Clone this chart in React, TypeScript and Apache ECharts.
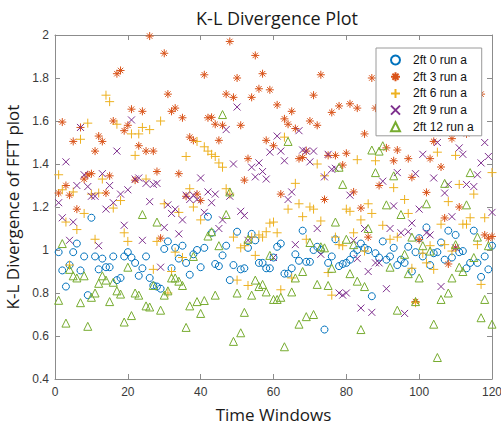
import React, { useEffect, useRef } from "react";
import * as echarts from "echarts";

const xTicks = { min: 0, max: 120, interval: 20 };
const yTicks = { min: 0.4, max: 2, interval: 0.2 };

const seriesNames = ["2ft 0 run a", "2ft 3 run a", "2ft 6 run a", "2ft 9 run a", "2ft 12 run a"];

const run0 = [
  0.99, 0.905, 0.83, 0.93, 0.99, 1.03, 0.905, 0.97, 0.79, 1.15,
  0.97, 0.91, 0.96, 0.92, 0.92, 0.97, 0.86, 0.87, 0.97, 0.99,
  0.965, 0.94, 0.88, 0.915, 0.97, 0.87, 0.835, 0.83, 0.82, 1.005,
  1.04, 0.915, 1.01, 0.96, 1.02, 0.94, 0.885, 0.98, 1.0, 0.92,
  1.01, 1.155, 1.08, 0.935, 0.925, 0.975, 1.02, 0.86, 0.93, 1.085,
  0.91, 0.915, 1.01, 1.075, 1.045, 0.94, 0.94, 0.915, 0.915, 0.965,
  1.015, 1.03, 0.89, 0.89, 0.915, 0.98, 0.95, 1.09, 0.945, 0.945,
  1.0, 1.015, 1.0, 0.63, 0.94, 0.97, 1.05, 0.925, 0.935, 0.94,
  0.955, 0.98, 1.0, 1.03, 1.01, 1.0, 0.785, 0.985, 0.965, 1.04,
  0.955, 0.97, 1.01, 0.93, 0.955, 0.94, 1.015, 0.9, 0.99, 1.055,
  0.97, 1.105, 0.93, 0.985, 0.99, 1.035, 0.955, 1.09, 0.965, 1.07,
  0.99, 0.995, 0.915, 0.94, 1.09, 0.94, 0.875, 0.97, 0.91, 1.02,
];

const run3 = [
  1.265, 1.595, 1.3, 1.255, 1.505, 1.19, 1.57, 1.33, 1.35, 1.355,
  1.46, 1.53, 1.505, 1.265, 1.345, 1.6, 1.82, 1.835, 1.555, 1.58,
  1.655, 1.325, 1.485, 1.645, 1.46, 1.995, 1.46, 1.365, 1.055, 1.915,
  1.725, 1.645, 1.66, 1.355, 1.615, 1.25, 1.525, 1.51, 1.26, 1.23,
  1.815, 1.615, 1.617, 1.585, 1.51, 1.58, 1.725, 1.97, 1.71, 1.8,
  1.58, 1.325, 1.425, 1.71, 1.905, 1.75, 1.82, 1.51, 1.745, 1.485,
  1.675, 1.26, 1.61, 1.585, 1.645, 1.565, 1.425, 1.43, 1.46, 1.6,
  1.72, 1.58, 1.815, 1.235, 1.44, 1.64, 1.44, 1.67, 1.395, 1.45,
  1.68, 1.27, 1.66, 1.195, 1.54, 1.06, 1.8, 1.66, 1.3, 1.72,
  1.475, 1.63, 1.415, 1.465, 1.78, 1.68, 1.425, 1.338, 0.76, 1.048,
  1.85, 1.268, 1.425, 1.505, 1.6, 1.386, 1.149, 0.935, 1.518, 1.01,
  1.2, 1.75, 1.54, 1.66, 1.7, 1.88, 1.725, 1.07, 1.055, 1.063,
];

const run6 = [
  1.35, 1.28, 1.13, 0.93, 1.27, 1.095, 1.515, 1.17, 1.59, 1.26,
  1.05, 1.265, 1.33, 1.72, 1.69, 1.195, 1.585, 1.23, 1.08, 1.04,
  1.54, 1.44, 1.54, 1.57, 1.33, 1.56, 0.91, 1.04, 1.6, 1.215,
  0.8, 0.9, 0.99, 1.175, 0.965, 1.435, 1.285, 1.2, 1.505, 1.14,
  1.48, 1.46, 1.445, 1.435, 1.405, 1.385, 1.285, 1.26, 1.06, 0.86,
  1.01, 1.02, 0.835, 1.06, 0.975, 1.07, 1.06, 1.085, 1.125, 1.13,
  1.08, 0.815, 1.525, 1.19, 0.87, 1.31, 1.215, 1.155, 1.05, 1.2,
  1.19, 1.4, 1.135, 1.345, 0.895, 0.79, 1.06, 1.025, 1.02, 1.19,
  1.18, 1.08, 1.42, 1.14, 0.995, 1.215, 1.17, 1.415, null, 1.115,
  null, 1.05, 1.29, 1.06, null, 1.235, 1.17, 0.915, 0.755, null,
  0.985, 0.94, 1.02, 0.91, 1.455, 1.12, 1.025, 1.225, 0.995, 1.44,
  1.305, 1.12, 1.12, 1.15, 1.26, 1.025, 0.84, 1.15, null, 1.36,
];

const run9 = [
  1.22, 1.15, 1.41, 1.045, 1.13, 1.3, 1.57, 1.35, 1.295, 1.25,
  1.25, 1.02, 1.355, 1.19, 1.3, 1.22, 1.46, 1.26, 1.115, 1.28,
  1.605, 1.33, 1.335, 1.045, 1.31, 1.225, 1.305, 1.31, 0.92, 1.105,
  1.21, 1.17, 1.19, 1.075, 1.14, 1.255, 1.235, 1.255, 1.235, 1.335,
  1.175, 1.27, 1.22, 1.26, 1.1, 1.14, 1.56, 1.25, 1.4, 1.665,
  1.18, 1.16, 1.045, 1.385, 1.34, 1.405, 1.365, 1.33, 1.455, 0.965,
  1.53, 1.46, 1.415, 1.235, 1.27, 1.025, 1.555, 1.465, 1.46, 1.41,
  1.46, 1.1, 0.98, 1.34, 1.445, 1.375, 1.38, 0.8, 0.79, 0.8,
  1.255, 1.045, 0.96, 0.73, 1.1, 0.9, 0.71, 0.94, 0.94, 1.32,
  0.82, 1.1, 1.205, 1.36, 1.08, 0.705, 1.085, 1.125, 1.355, 1.19,
  1.445, 1.08, 1.07, 1.335, 1.5, 0.83, 1.265, 1.305, 1.155, 1.01,
  1.475, 1.445, 1.305, null, 1.295, 1.35, 1.405, 1.5, 1.435, 1.175,
];

const run12 = [
  0.766, 1.03, 0.66, 0.91, 0.88, 0.87, 0.755, 0.88, 0.645, 0.78,
  0.8, 0.845, 0.88, 0.86, 0.76, 0.85, 0.81, 0.795, 0.665, 0.92,
  0.695, 0.8, 0.79, 1.165, 0.74, 0.735, 0.835, 1.13, 0.72, 0.79,
  0.81, 0.87, 0.87, 0.855, 0.835, 0.64, 0.74, 0.97, 0.76, 0.705,
  0.765, 1.065, 1.085, 0.79, 1.02, 1.63, 1.165, 1.27, 0.575, 0.8,
  0.615, 0.71, 1.05, 0.79, 0.86, 0.83, 0.84, 0.805, 0.975, 0.77,
  0.77, 0.78, 0.55, 1.505, 0.805, 0.87, 0.655, 0.9, 0.69, 1.035,
  0.7, 0.84, 1.015, 1.01, 0.835, 0.915, 1.13, 1.385, 1.305, 1.05,
  0.89, 1.025, 0.855, 0.63, 0.83, 1.1, 1.465, 1.36, 1.46, 1.485,
  1.21, 0.92, 1.345, 0.72, 1.165, 0.98, 0.89, 1.06, 0.76, 0.87,
  1.02, 1.215, 0.995, 0.655, 0.5, 0.77, 1.31, 0.8, 0.87, 1.025,
  0.92, 0.9, 1.21, 1.36, 0.965, 1.06, 0.685, 0.77, 1.02, 0.655,
];

const allRuns = [run0, run3, run6, run9, run12];
const colors = ["#0072BD", "#D95319", "#EDB120", "#7E2F8E", "#77AC30"];
const symbols = [
  "circle",
  "path://M5,0L5,10M0,5L10,5M1.6,1.6L8.4,8.4M1.6,8.4L8.4,1.6",
  "path://M5,0L5,10M0,5L10,5",
  "path://M0,0L10,10M0,10L10,0",
  "triangle",
];
const sizes = [7, 8, 9, 7, 8];

const AXIS_COLOR = "#8c8c8c";
const LABEL_COLOR = "#3a3a3a";

export default function App() {
  const ref = useRef<HTMLDivElement>(null);
  useEffect(() => {
    if (!ref.current) return;
    const chart = echarts.init(ref.current, undefined, { renderer: "svg" });
    const axisCommon = {
      type: "value" as const,
      splitLine: { show: false },
      axisLine: { show: true, onZero: false, lineStyle: { color: AXIS_COLOR, width: 1 } },
      axisTick: { show: true, inside: true, length: 5, lineStyle: { color: AXIS_COLOR } },
    };
    chart.setOption({
      animation: false,
      backgroundColor: "#ffffff",
      title: {
        text: "K-L Divergence Plot",
        left: 272,
        top: 4,
        textAlign: "center",
        textStyle: { fontFamily: "Open Sans", fontSize: 18, fontWeight: "normal", color: "#1a1a1a" },
      },
      grid: { left: 55, right: 9, top: 35, bottom: 46, outerBoundsMode: "none", containLabel: false },
      legend: {
        orient: "vertical",
        left: 376,
        top: 48,
        width: 100,
        padding: [6, 8, 3, 14],
        itemGap: 4.7,
        itemWidth: 9,
        itemHeight: 9,
        backgroundColor: "#ffffff",
        borderColor: "#9a9a9a",
        borderWidth: 1,
        borderRadius: 0,
        textStyle: { fontFamily: "Liberation Sans", fontSize: 12, color: "#111", padding: [0, 0, 0, 8], lineHeight: 12 },
        data: seriesNames,
        z: 10,
      },
      xAxis: [
        {
          ...axisCommon,
          min: xTicks.min,
          max: xTicks.max,
          interval: xTicks.interval,
          name: "Time Windows",
          nameLocation: "middle",
          nameGap: 27,
          nameTextStyle: { fontFamily: "Open Sans", fontSize: 17, color: "#1a1a1a" },
          axisLabel: { fontFamily: "Liberation Sans", fontSize: 12, color: LABEL_COLOR, margin: 7 },
        },
        {
          ...axisCommon,
          position: "top",
          min: xTicks.min,
          max: xTicks.max,
          interval: xTicks.interval,
          axisLabel: { show: false },
        },
      ],
      yAxis: [
        {
          ...axisCommon,
          min: yTicks.min,
          max: yTicks.max,
          interval: yTicks.interval,
          name: "K-L Divergence of FFT plot",
          nameLocation: "middle",
          nameGap: 28,
          nameTextStyle: { fontFamily: "Open Sans", fontSize: 17, color: "#1a1a1a" },
          axisLabel: {
            fontFamily: "Liberation Sans",
            fontSize: 12,
            color: LABEL_COLOR,
            margin: 6,
            formatter: (v: number) => String(Math.round(v * 10) / 10),
          },
        },
        {
          ...axisCommon,
          position: "right",
          min: yTicks.min,
          max: yTicks.max,
          interval: yTicks.interval,
          axisLabel: { show: false },
        },
      ],
      series: allRuns.map((run, i) => ({
        name: seriesNames[i],
        type: "scatter",
        xAxisIndex: 0,
        yAxisIndex: 0,
        symbol: symbols[i],
        symbolSize: sizes[i],
        data: run.map((v, k) => (v === null ? [k + 1, "-"] : [k + 1, v])),
        itemStyle: {
          color: "rgba(0,0,0,0)",
          borderColor: colors[i],
          borderWidth: 1,
          opacity: 1,
        },
        emphasis: { disabled: true },
      })),
    });
    return () => chart.dispose();
  }, []);
  return <div ref={ref} style={{ width: 501, height: 425, position: "absolute", left: 0, top: 0 }} />;
}
